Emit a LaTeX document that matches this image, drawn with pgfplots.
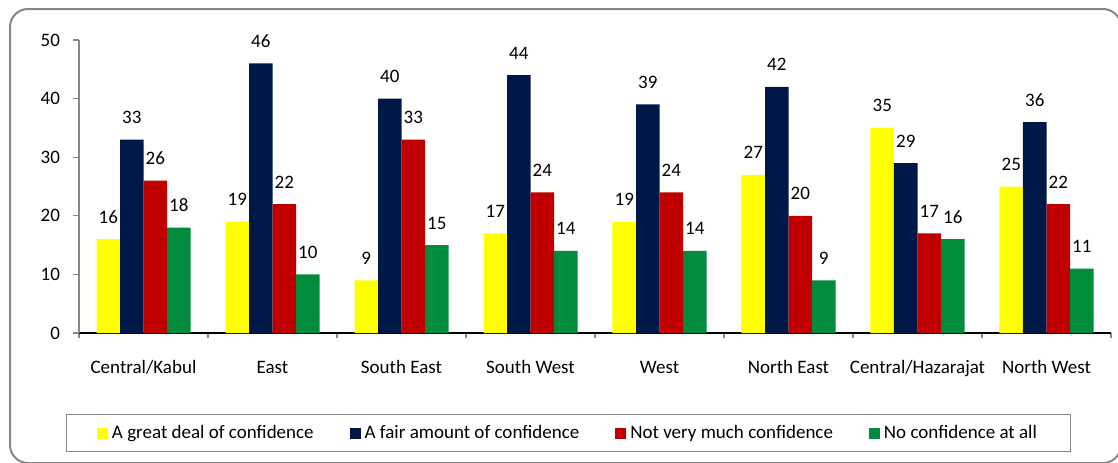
\documentclass[border=0pt]{standalone}
\usepackage{pgfplots}
\pgfplotsset{compat=1.18}
\usepackage{fontspec}
\setmainfont{Carlito}
\definecolor{cyel}{HTML}{FFFF00}
\definecolor{cnavy}{HTML}{001848}
\definecolor{cred}{HTML}{C00000}
\definecolor{cgreen}{HTML}{008C3C}
\definecolor{cframe}{HTML}{868686}
\newcommand{\cf}{\fontsize{9.5}{11}\selectfont}
\begin{document}
\begin{tikzpicture}
\path[use as bounding box] (0,0) rectangle (559pt,231pt);
\begin{scope}
\clip (0,0) rectangle (559pt,231pt);
\draw[cframe, line width=1pt, rounded corners=9pt] (5pt,226.5pt) rectangle (560.5pt,-0.5pt);
\end{scope}
\begin{axis}[
  at={(39.5pt,64.5pt)}, anchor=south west,
  scale only axis, width=516pt, height=146.5pt,
  ybar=0pt, bar width=11.75pt,
  xmin=-0.5, xmax=7.5, ymin=0, ymax=50,
  xtick={0,...,7},
  xticklabels={Central/Kabul,East,South East,South West,West,North East,Central/Hazarajat,North West},
  minor xtick={-0.5,0.5,...,7.5},
  ytick={0,10,...,50},
  axis x line*=bottom, axis y line*=left,
  x axis line style={black, line width=0.6pt},
  y axis line style={cframe, line width=0.6pt},
  tick align=outside,
  major x tick style={draw=none},
  minor x tick style={cframe, line width=0.6pt},
  major y tick style={cframe, line width=0.6pt},
  major tick length=3pt, minor tick length=2.5pt,
  /pgf/number format/assume math mode=true,
  tick label style={font=\cf, text=black},
  xticklabel style={anchor=base, yshift=-17pt},
  yticklabel style={xshift=-3pt},
  nodes near coords,
  every node near coord/.append style={font=\cf, text=black, anchor=base, yshift=8pt},
  legend columns=4,
  legend style={at={(0.4748,-0.3413)}, anchor=center, draw=cframe, line width=0.5pt,
    font=\cf, inner xsep=15pt, inner ysep=3pt,
    /tikz/every even column/.append style={column sep=16pt}},
  legend image code/.code={\fill[#1] (0pt,-2.75pt) rectangle (5.5pt,2.75pt);},
  legend cell align=left,
  clip=false,
]
\addplot[fill=cyel, draw=none] coordinates {(0,16) (1,19) (2,9) (3,17) (4,19) (5,27) (6,35) (7,25)};
\addplot[fill=cnavy, draw=none] coordinates {(0,33) (1,46) (2,40) (3,44) (4,39) (5,42) (6,29) (7,36)};
\addplot[fill=cred, draw=none] coordinates {(0,26) (1,22) (2,33) (3,24) (4,24) (5,20) (6,17) (7,22)};
\addplot[fill=cgreen, draw=none] coordinates {(0,18) (1,10) (2,15) (3,14) (4,14) (5,9) (6,16) (7,11)};
\legend{A great deal of confidence,A fair amount of confidence,Not very much confidence,No confidence at all}
\end{axis}
\end{tikzpicture}
\end{document}
